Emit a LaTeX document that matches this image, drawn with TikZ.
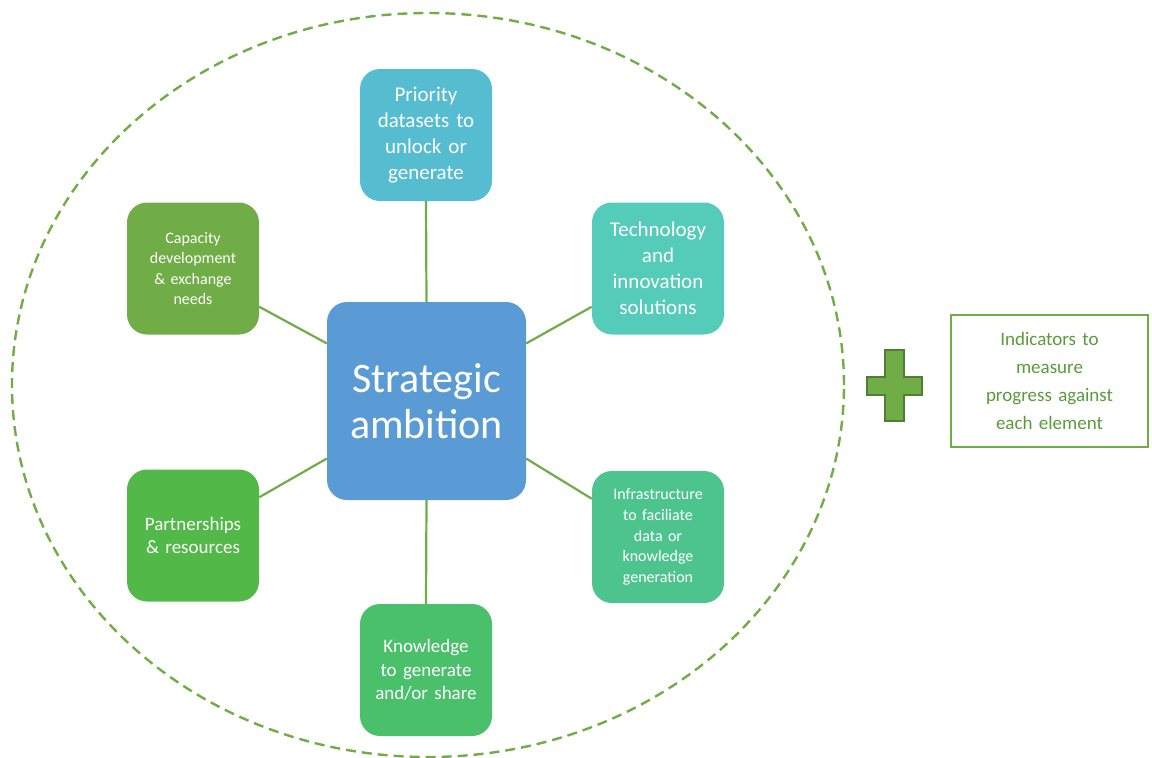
\documentclass[tikz,border=0pt]{standalone}
\usepackage{fontspec}
\setmainfont{Carlito}
\definecolor{ambblue}{HTML}{5B9BD5}
\definecolor{prioblue}{HTML}{56BCD0}
\definecolor{techteal}{HTML}{55CBB9}
\definecolor{infragreen}{HTML}{4DC48E}
\definecolor{knowgreen}{HTML}{4AC06A}
\definecolor{partgreen}{HTML}{52B848}
\definecolor{capgreen}{HTML}{70AD47}
\definecolor{linegreen}{HTML}{70AD47}
\definecolor{plusedge}{HTML}{507E32}
\definecolor{indtext}{HTML}{5A9A3A}
\begin{document}
\begin{tikzpicture}[x=1pt,y=-1pt,
    box/.style={rounded corners=20pt, minimum width=132pt, minimum height=132pt,
      text width=124pt, align=center, text=white, inner sep=0pt},
    link/.style={draw=linegreen, line width=2.2pt}]
    \useasboundingbox (0,0) rectangle (1152,758);

    % outer dashed ring
    \draw[linegreen, line width=2.4pt, dash pattern=on 10pt off 6pt]
      (428,385) ellipse [x radius=416pt, y radius=372pt];

    \node[box, fill=ambblue, minimum width=199pt, minimum height=198pt,
      text width=190pt, font=\fontsize{42}{46}\selectfont] (amb) at (426.5,401) {Strategic\\ambition};

    \def \Boxes {
      prio/426/135/prioblue/21/26/{Priority\\datasets to\\unlock or\\generate},
      tech/658/268.5/techteal/21/26/{Technology\\and\\innovation\\solutions},
      infra/658/537/infragreen/16/20.7/{Infrastructure\\to faciliate\\data or\\knowledge\\generation},
      know/426/670/knowgreen/19/23.5/{Knowledge\\to generate\\and/or share},
      part/193/535.5/partgreen/19/23/{Partnerships\\\& resources},
      cap/193/268.5/capgreen/16/20.5/{Capacity\\development\\\& exchange\\needs}}

    \foreach \id / \x / \y / \col / \fs / \bs / \txt in \Boxes {
      \node[box, fill=\col, font=\fontsize{\fs}{\bs}\selectfont] (\id) at (\x,\y) {\txt};
    }

    \draw[link] (amb.north) -- (prio.south);
    \draw[link] (amb.30) -- (tech.210);
    \draw[link] (amb.330) -- (infra.150);
    \draw[link] (amb.south) -- (know.north);
    \draw[link] (amb.210) -- (part.30);
    \draw[link] (amb.150) -- (cap.330);

    % plus sign
    \draw[fill=capgreen, draw=plusedge, line width=1.8pt]
      (885,350) -- (904,350) -- (904,377) -- (922,377) -- (922,395) -- (904,395)
      -- (904,421) -- (885,421) -- (885,395) -- (867,395) -- (867,377) -- (885,377) -- cycle;

    \node[draw=linegreen, line width=2pt, minimum width=197pt, minimum height=132pt,
      text width=185pt, align=center, text=indtext, font=\fontsize{19}{28}\selectfont]
      (ind) at (1049.5,381) {Indicators to\\measure\\progress against\\each element};
  \end{tikzpicture}
\end{document}
